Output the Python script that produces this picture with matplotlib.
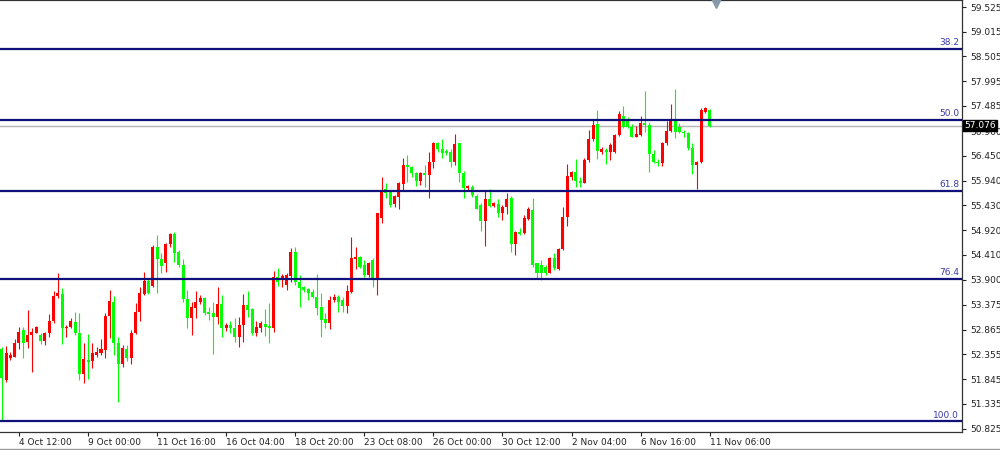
import numpy as np
import matplotlib
matplotlib.use("Agg")
import matplotlib.pyplot as plt
from matplotlib.transforms import blended_transform_factory
from matplotlib.lines import Line2D

# H4 candles
opens = [52.466, 51.826, 52.279, 52.300, 52.589, 52.858, 52.610, 52.755, 52.796, 52.755,
         52.630, 52.796, 53.044, 53.560, 53.601, 52.899, 52.920, 53.023, 52.796, 51.949,
         52.238, 52.217, 52.342, 52.383, 52.445, 53.147, 53.436, 52.589, 52.155, 52.466,
         52.279, 52.796, 53.230, 53.601, 53.869, 53.766, 54.571, 54.324, 54.241, 54.633,
         54.839, 54.468, 54.200, 53.498, 53.106, 53.312, 53.436, 53.518, 53.230, 53.209,
         53.126, 53.394, 52.899, 52.961, 52.899, 52.713, 52.961, 53.374, 53.291, 52.796,
         52.899, 52.982, 52.941, 52.899, 53.952, 53.890, 53.787, 53.973, 54.468, 53.849,
         53.746, 53.704, 53.642, 53.539, 53.333, 53.085, 53.002, 53.477, 53.539, 53.477,
         53.353, 53.642, 54.324, 54.365, 54.200, 53.993, 54.303, 53.890, 55.170, 55.768,
         55.706, 55.459, 55.603, 55.871, 56.264, 56.222, 56.099, 55.933, 56.099, 56.057,
         56.326, 56.718, 56.594, 56.553, 56.532, 56.326, 56.718, 56.099, 55.789, 55.810,
         55.624, 55.438, 55.108, 55.562, 55.418, 55.459, 55.273, 55.397, 55.583, 54.633,
         54.881, 54.860, 55.150, 55.335, 54.241, 54.200, 54.158, 54.034, 54.344, 54.117,
         54.530, 55.191, 56.016, 56.119, 55.933, 55.892, 56.367, 56.801, 57.110, 56.532,
         56.574, 56.532, 56.532, 56.883, 57.276, 57.214, 57.048, 56.842, 56.883, 57.131,
         57.090, 56.491, 56.326, 56.305, 56.718, 56.966, 57.172, 57.048, 56.945, 56.924,
         56.615, 56.264, 56.326, 57.358, 57.399]

highs = [52.507, 52.528, 52.404, 52.672, 52.920, 52.920, 53.271, 52.899, 52.941, 52.796,
         52.817, 53.188, 53.663, 54.034, 53.725, 52.961, 53.106, 53.230, 53.209, 52.589,
         52.775, 52.589, 52.507, 52.672, 53.209, 53.684, 53.560, 52.713, 52.548, 52.548,
         52.858, 53.415, 53.746, 54.055, 53.911, 54.612, 54.819, 54.447, 54.654, 54.860,
         54.881, 54.509, 54.324, 53.684, 53.436, 53.663, 53.580, 53.539, 53.333, 53.436,
         53.746, 53.580, 53.002, 53.044, 53.106, 53.126, 53.601, 53.663, 53.312, 53.044,
         53.044, 53.291, 53.415, 54.076, 54.138, 54.014, 54.034, 54.550, 54.571, 53.993,
         53.766, 53.725, 53.704, 54.014, 53.622, 53.209, 53.560, 53.601, 53.580, 53.539,
         53.787, 54.778, 54.571, 54.385, 54.303, 54.262, 54.344, 55.273, 56.016, 55.892,
         55.748, 55.644, 55.913, 56.409, 56.470, 56.243, 56.119, 56.119, 56.264, 56.532,
         56.739, 56.739, 56.801, 56.594, 56.594, 56.904, 56.718, 56.140, 55.851, 55.851,
         55.665, 55.479, 55.748, 55.768, 55.500, 55.562, 55.438, 55.686, 55.624, 54.901,
         54.963, 55.232, 55.397, 55.583, 54.241, 54.303, 54.200, 54.365, 54.447, 54.550,
         55.397, 56.285, 56.140, 56.388, 56.016, 56.409, 56.986, 57.193, 57.399, 56.636,
         56.615, 56.718, 56.904, 57.379, 57.482, 57.255, 57.110, 57.069, 57.276, 57.791,
         57.152, 56.574, 56.388, 56.739, 57.172, 57.523, 57.832, 57.131, 56.986, 56.945,
         56.718, 56.347, 57.441, 57.461, 57.420]

lows = [51.000, 51.785, 52.238, 52.300, 52.466, 52.279, 52.487, 51.991, 52.796, 52.568,
        52.548, 52.713, 53.002, 53.518, 52.568, 52.713, 52.899, 52.755, 51.826, 51.764,
        51.847, 52.073, 52.300, 52.342, 52.279, 52.692, 52.342, 51.372, 52.094, 52.217,
        52.155, 52.775, 53.044, 53.580, 53.601, 53.746, 53.622, 54.034, 54.055, 54.571,
        54.262, 54.158, 53.436, 52.899, 52.755, 53.106, 53.394, 53.168, 53.064, 52.362,
        52.982, 52.713, 52.837, 52.796, 52.610, 52.507, 52.610, 53.126, 52.755, 52.734,
        52.817, 52.734, 52.589, 52.817, 53.766, 53.746, 53.684, 53.849, 53.787, 53.333,
        53.642, 53.477, 53.518, 53.168, 52.713, 52.899, 52.879, 53.436, 53.230, 53.230,
        53.209, 53.622, 54.117, 54.138, 53.952, 53.952, 53.746, 53.580, 55.067, 55.583,
        55.397, 55.397, 55.356, 55.748, 55.913, 56.016, 55.830, 55.851, 55.810, 55.583,
        56.202, 56.532, 56.409, 56.470, 56.222, 56.264, 55.913, 55.583, 55.748, 55.603,
        55.356, 54.901, 54.592, 55.397, 55.397, 55.191, 55.129, 55.252, 54.468, 54.406,
        54.819, 54.839, 55.129, 54.158, 53.931, 53.890, 53.993, 54.034, 54.096, 54.096,
        54.509, 55.005, 55.954, 55.810, 55.810, 55.892, 56.326, 56.760, 56.388, 56.491,
        56.285, 56.367, 56.512, 56.863, 57.028, 57.028, 56.842, 56.842, 56.863, 56.945,
        56.119, 56.305, 56.243, 56.243, 56.677, 56.945, 56.821, 56.924, 56.842, 56.574,
        56.078, 55.768, 56.305, 57.338, 57.048]

closes = [51.867, 52.383, 52.342, 52.589, 52.817, 52.589, 52.755, 52.817, 52.920, 52.630,
          52.796, 53.044, 53.560, 53.622, 52.899, 52.920, 53.044, 52.796, 51.949, 52.259,
          52.197, 52.383, 52.404, 52.466, 53.147, 53.456, 52.589, 52.155, 52.487, 52.279,
          52.796, 53.230, 53.622, 53.869, 53.622, 54.571, 54.324, 54.179, 54.633, 54.839,
          54.447, 54.200, 53.498, 53.106, 53.333, 53.436, 53.518, 53.209, 53.188, 53.126,
          53.394, 52.899, 52.961, 52.899, 52.713, 52.961, 53.374, 53.271, 52.796, 52.920,
          53.002, 52.920, 52.899, 53.952, 53.849, 53.973, 53.993, 54.468, 53.849, 53.725,
          53.684, 53.622, 53.539, 53.312, 53.064, 53.002, 53.477, 53.539, 53.436, 53.353,
          53.663, 54.344, 54.365, 54.158, 53.993, 54.241, 53.931, 55.273, 55.748, 55.686,
          55.438, 55.624, 55.892, 56.264, 56.222, 56.099, 55.933, 56.099, 56.057, 56.326,
          56.718, 56.594, 56.512, 56.512, 56.326, 56.698, 56.099, 55.789, 55.830, 55.644,
          55.356, 55.108, 55.562, 55.418, 55.479, 55.273, 55.397, 55.562, 54.633, 54.881,
          54.839, 55.170, 55.356, 54.200, 54.034, 54.034, 54.034, 54.344, 54.138, 54.530,
          55.191, 56.037, 56.119, 55.933, 55.892, 56.367, 56.801, 57.090, 56.553, 56.594,
          56.532, 56.677, 56.883, 57.317, 57.048, 57.048, 56.842, 56.904, 57.131, 57.090,
          56.491, 56.326, 56.305, 56.718, 56.966, 57.172, 56.945, 56.945, 56.924, 56.615,
          56.264, 56.326, 57.399, 57.441, 57.076]

fib_labels = ["38.2", "50.0", "61.8", "76.4", "100.0"]
fib_levels = [58.66, 57.203, 55.733, 53.913, 50.98]

price_ticks = [59.525, 59.015, 58.505, 57.995, 57.485, 56.960, 56.450, 55.940, 55.430,
               54.920, 54.410, 53.900, 53.375, 52.865, 52.355, 51.845, 51.335, 50.825]

date_idx = [4, 20, 36, 52, 68, 84, 100, 116, 132, 148, 164]
date_labels = ["4 Oct 12:00", "9 Oct 00:00", "11 Oct 16:00", "16 Oct 04:00", "18 Oct 20:00",
               "23 Oct 08:00", "26 Oct 00:00", "30 Oct 12:00", "2 Nov 04:00", "6 Nov 16:00",
               "11 Nov 06:00"]

last_price = 57.076

o = np.array(opens)
h = np.array(highs)
l = np.array(lows)
c = np.array(closes)
x = np.arange(len(o))

up_col = '#ff0000'
dn_col = '#00ff00'
cols = np.where(c >= o, up_col, dn_col)

fig = plt.figure(figsize=(10, 4.5), dpi=100)
ax = fig.add_axes([0, 18 / 450, 0.962, 432 / 450])

# wicks and bodies
ax.vlines(x, l, h, colors=cols, linewidth=0.8, zorder=3)
body_lo = np.minimum(o, c)
body_h = np.maximum(np.abs(c - o), 0.025)
ax.bar(x, body_h, bottom=body_lo, width=0.7, color=cols, linewidth=0, zorder=4)

# fibonacci levels
tr = blended_transform_factory(ax.transAxes, ax.transData)
for lab, lev in zip(fib_labels, fib_levels):
    ax.axhline(lev, color='#10107a', linewidth=1.6, zorder=5)
    ax.text(0.997, lev + 0.03, lab, transform=tr, ha='right', va='bottom',
            fontsize=6.5, color='#3a3aa8', zorder=6)

# current price line + tag
ax.axhline(last_price, color='#b4b4b4', linewidth=1, zorder=2)
ax.text(1.002, last_price, "%.3f" % last_price, transform=tr, ha='left', va='center',
        fontsize=6.5, color='white', clip_on=False, zorder=10,
        bbox=dict(boxstyle='square,pad=0.12', fc='black', ec='black'))

ax.set_xlim(-0.394, 222.45)
ax.set_ylim(50.753, 59.6695)

ax.yaxis.tick_right()
ax.set_yticks(price_ticks)
ax.set_yticklabels(["%.3f" % v for v in price_ticks])
ax.tick_params(axis='y', direction='out', length=3, width=0.8, pad=3,
               labelsize=6.5, colors='#222222')

ax.set_xticks(date_idx)
ax.set_xticklabels(date_labels)
for t in ax.get_xticklabels():
    t.set_horizontalalignment('left')
ax.tick_params(axis='x', direction='out', length=3, width=0.8, pad=1,
               labelsize=6.5, colors='#222222')

ax.spines['left'].set_visible(False)
for side in ['right', 'bottom', 'top']:
    ax.spines[side].set_color('#333333')
    ax.spines[side].set_linewidth(0.9)

# chart shift marker at top
ax.plot([0.744], [0.995], marker='v', color='#8899aa', markersize=8,
        transform=ax.transAxes, clip_on=False, zorder=10)

fig.add_artist(Line2D([0, 1], [1.5 / 450, 1.5 / 450], color='#9a9a9a', linewidth=1))

fig.savefig("out.png", dpi=100, facecolor='white')
